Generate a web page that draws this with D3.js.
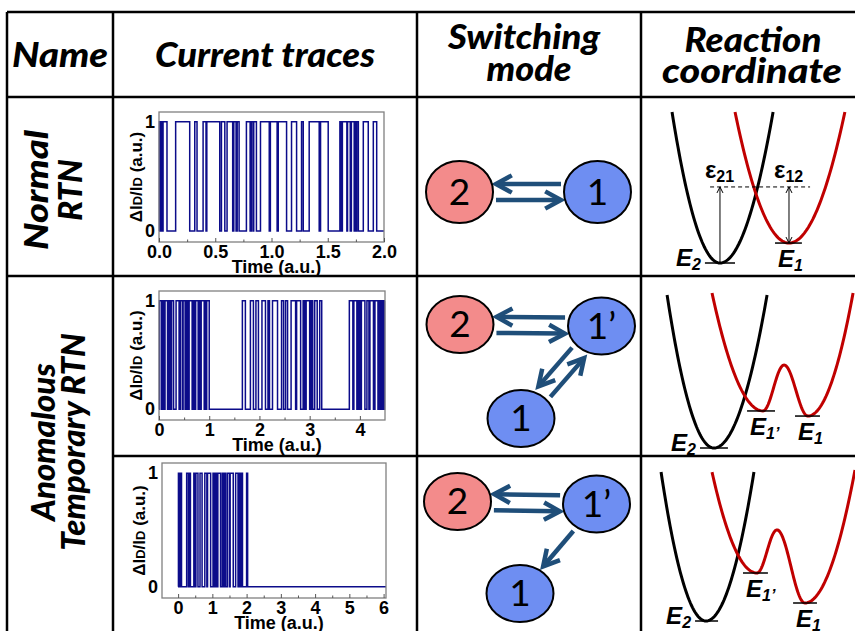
<!DOCTYPE html>
<html>
<head>
<meta charset="utf-8">
<script src="https://cdn.jsdelivr.net/npm/d3@7"></script>
<style>
  body { margin: 0; background: #fff; }
  svg { display: block; }
</style>
</head>
<body>
<svg id="chart" width="855" height="631"></svg>
<script>
// ---- table text ----
var headers = [['Name'], ['Current traces'], ['Switching', 'mode'], ['Reaction', 'coordinate']];
var rowNames = [['Normal', 'RTN'], ['Anomalous', 'Temporary RTN']];

// ---- current traces: times (a.u.) where the trap flips, trace starts at 0 ----
var switches1 = [0.004, 0.010, 0.014, 0.020, 0.024, 0.030, 0.036, 0.071, 0.148, 0.273,
  0.318, 0.338, 0.392, 0.418, 0.425, 0.54, 0.555, 0.585, 0.605, 0.655, 0.665, 0.685,
  0.695, 0.712, 0.777, 0.81, 0.82, 0.835, 0.842, 0.866, 0.902, 0.98, 0.99, 1.05, 1.06,
  1.134, 1.178, 1.223, 1.267, 1.282, 1.335, 1.424, 1.436, 1.504, 1.608, 1.62, 1.63,
  1.67, 1.676, 1.7, 1.71, 1.735, 1.742, 1.75, 1.758, 1.772, 1.816, 1.86, 1.905, 1.935];
var switches2 = [0.01, 0.05, 0.07, 0.1, 0.12, 0.17, 0.2, 0.22, 0.25, 0.29, 0.34, 0.4,
  0.43, 0.47, 0.48, 0.52, 0.55, 0.58, 0.6, 0.66, 0.68, 0.71, 0.73, 0.78, 0.8, 0.82, 0.84,
  0.9, 0.91, 0.93, 0.95, 1.0, 1.66, 1.72, 1.82, 1.88, 1.93, 1.98, 2.05, 2.12, 2.17, 2.2,
  2.26, 2.36, 2.44, 2.48, 2.52, 2.56, 2.63, 2.72, 2.74, 2.82, 2.87, 2.9, 2.93, 3.0, 3.03,
  3.06, 3.1, 3.15, 3.2, 3.24, 3.79, 3.86, 3.88, 3.94, 3.97, 4.0, 4.03, 4.1, 4.14, 4.18,
  4.2, 4.27, 4.3, 4.36, 4.38, 4.41, 4.44, 4.47, 4.49];
var switches3 = [0.01, 0.02, 0.03, 0.045, 0.06, 0.1, 0.25, 0.3, 0.32, 0.36, 0.46, 0.5,
  0.52, 0.58, 0.64, 0.7, 0.78, 0.84, 0.86, 0.95, 1.02, 1.06, 1.08, 1.12, 1.16, 1.24,
  1.29, 1.33, 1.35, 1.39, 1.44, 1.5, 1.52, 1.61, 1.68, 1.75, 1.78, 1.82, 1.85, 1.88,
  2.0, 2.03];
var timeDomains = [[0, 2], [0, 4.5], [-0.47, 6.07]];
var timeTicks = [[0, 0.5, 1, 1.5, 2], [0, 1, 2, 3, 4], [0, 1, 2, 3, 4, 5, 6]];
var minorTicks = [[0.25, 0.75, 1.25, 1.75], [0.5, 1.5, 2.5, 3.5], [0.5, 1.5, 2.5, 3.5, 4.5, 5.5]];
var tickFormats = ['.1f', 'd', 'd'];
var levelTicks = [0, 1];

// ---- switching modes ----
var modeStates = [['2', '1'], ['2', '1\u2019', '1'], ['2', '1\u2019', '1']];
var modeLinks = [
  [['1', '2'], ['2', '1']],
  [['1\u2019', '2'], ['2', '1\u2019'], ['1\u2019', '1'], ['1', '1\u2019']],
  [['1\u2019', '2'], ['2', '1\u2019'], ['1\u2019', '1']]
];

// ---- reaction coordinate: [q, energy] of tops / minima / barrier peaks ----
var wellE2 = [
  [[1.49, 10.07], [3.72, 0], [6.19, 10.07]],
  [[1.26, 10.2], [3.44, 0], [5.91, 10.2]],
  [[0.98, 9.93], [3.07, 0], [5.30, 9.93]]
];
var wellE1 = [
  [[4.42, 10.07], [6.93, 1.33], [9.53, 10.07]],
  [[3.35, 10.33], [5.72, 2.47], [6.70, 5.53], [7.81, 2.13], [9.91, 10.33]],
  [[3.35, 9.93], [5.44, 3.2], [6.37, 6.07], [7.67, 1.2], [10.0, 10.07]]
];
var levelSubs = [['2', '1'], ['2', '1\u2019', '1'], ['2', '1\u2019', '1']];
var levelSpans = [
  [[3.02, 4.42], [6.28, 7.53]],
  [[2.79, 4.09], [4.98, 6.28], [7.21, 8.37]],
  [[2.56, 3.63], [4.79, 5.95], [7.12, 8.23]]
];
var crossingLevel = 5.07, crossingSpan = [3.26, 7.91];
var barrierSubs = ['21', '12'];

// ---- layout ----
var svg = d3.select('#chart');
var colX = [7, 113, 417, 641], rowY = [12, 97, 276, 456, 640];
var headFont = 'Lato, "Open Sans", sans-serif',
    plotFont = '"Liberation Sans", Arial, sans-serif';

// header
var headPos = [
  {x: [60], y: [67], len: [96]},
  {x: [265], y: [67], len: [220]},
  {x: [524, 529], y: [49, 81], len: [152, 85]},
  {x: [753, 752], y: [52, 83], len: [137, 180]}
];
headers.forEach(function (lines, i) {
  lines.forEach(function (s, j) {
    svg.append('text')
      .attr('x', headPos[i].x[j]).attr('y', headPos[i].y[j])
      .attr('text-anchor', 'middle')
      .attr('font-family', headFont).attr('font-size', 35)
      .attr('font-weight', 900).attr('font-style', 'italic')
      .attr('textLength', headPos[i].len[j]).attr('lengthAdjust', 'spacingAndGlyphs')
      .text(s);
  });
});

// row names (rotated)
var namePos = [{x: [48, 82], y: 190, len: [120, null]}, {x: [55, 85], y: 442, len: [null, null]}];
rowNames.forEach(function (lines, i) {
  lines.forEach(function (s, j) {
    var t = svg.append('text')
      .attr('transform', 'translate(' + namePos[i].x[j] + ',' + namePos[i].y + ') rotate(-90)')
      .attr('text-anchor', 'middle')
      .attr('font-family', headFont).attr('font-size', 33)
      .attr('font-weight', 900).attr('font-style', 'italic')
      .text(s);
    if (namePos[i].len[j]) t.attr('textLength', namePos[i].len[j]).attr('lengthAdjust', 'spacingAndGlyphs');
  });
});

// ---- current traces ----
var tracePanels = [
  {sw: switches1, left: 159, right: 384, top: 112, bottom: 242},
  {sw: switches2, left: 159, right: 385, top: 291, bottom: 420},
  {sw: switches3, left: 162, right: 386, top: 463, bottom: 598}
];

tracePanels.forEach(function (p, i) {
  var dom = timeDomains[i];
  var x = d3.scaleLinear().domain(dom).range([p.left, p.right]);
  var y = d3.scaleLinear().domain([-0.1, 1.09]).range([p.bottom, p.top]);
  var g = svg.append('g');

  var pts = [[Math.max(0, dom[0]), 0]], level = 0;
  p.sw.forEach(function (t) { level = 1 - level; pts.push([t, level]); });
  pts.push([dom[1], level]);

  g.append('path')
    .datum(pts)
    .attr('fill', 'none')
    .attr('stroke', '#0c0c8a')
    .attr('stroke-width', 1.5)
    .attr('d', d3.line().x(function (d) { return x(d[0]); }).y(function (d) { return y(d[1]); })
      .curve(d3.curveStepAfter));

  g.append('rect')
    .attr('x', p.left).attr('y', p.top)
    .attr('width', p.right - p.left).attr('height', p.bottom - p.top)
    .attr('fill', 'none').attr('stroke', '#808080').attr('stroke-width', 1.3);

  var ax = g.append('g').attr('transform', 'translate(0,' + p.bottom + ')')
    .call(d3.axisBottom(x).tickValues(timeTicks[i]).tickFormat(d3.format(tickFormats[i]))
      .tickSize(-4).tickPadding(3));
  ax.select('.domain').remove();
  ax.selectAll('line').attr('stroke', '#555');
  ax.selectAll('text').attr('font-family', plotFont).attr('font-size', 18).attr('font-weight', 'bold');

  var mx = g.append('g').attr('transform', 'translate(0,' + p.bottom + ')')
    .call(d3.axisBottom(x).tickValues(minorTicks[i]).tickFormat('').tickSize(-2.5));
  mx.select('.domain').remove();
  mx.selectAll('line').attr('stroke', '#555');

  var ay = g.append('g').attr('transform', 'translate(' + p.left + ',0)')
    .call(d3.axisLeft(y).tickValues(levelTicks).tickFormat(d3.format('d')).tickSize(0).tickPadding(4));
  ay.select('.domain').remove();
  ay.selectAll('text').attr('font-family', plotFont).attr('font-size', 18).attr('font-weight', 'bold');

  g.append('text')
    .attr('x', (p.left + p.right) / 2 + 5).attr('y', p.bottom + 31)
    .attr('text-anchor', 'middle')
    .attr('font-family', plotFont).attr('font-size', 18).attr('font-weight', 'bold')
    .text('Time (a.u.)');

  var yl = g.append('text')
    .attr('transform', 'translate(' + (p.left - 17) + ',' + (p.top + p.bottom) / 2 + ') rotate(-90)')
    .attr('text-anchor', 'middle')
    .attr('font-family', plotFont).attr('font-size', 17).attr('font-weight', 'bold');
  yl.append('tspan').text('\u0394I');
  yl.append('tspan').attr('font-size', 13).text('D');
  yl.append('tspan').text('/I');
  yl.append('tspan').attr('font-size', 13).text('D');
  yl.append('tspan').text(' (a.u.)');
});

// ---- switching modes ----
var nodeLayout = [
  {'2': [459.5, 192], '1': [597.5, 192], ry: 31},
  {'2': [460, 324.5], '1\u2019': [601.5, 326], '1': [521, 418.5], ry: 28.5},
  {'2': [457.5, 501.5], '1\u2019': [596.5, 504], '1': [520, 593.5], ry: 28.5}
];
var nodeRx = 33.5;

function chevronArrow(g, x1, y1, x2, y2) {
  var ang = Math.atan2(y2 - y1, x2 - x1), len = 18, spread = 0.5;
  var a = [x2 - len * Math.cos(ang - spread), y2 - len * Math.sin(ang - spread)],
      b = [x2 - len * Math.cos(ang + spread), y2 - len * Math.sin(ang + spread)];
  g.append('line')
    .attr('x1', x1).attr('y1', y1)
    .attr('x2', x2 - 2 * Math.cos(ang)).attr('y2', y2 - 2 * Math.sin(ang));
  g.append('path').attr('fill', 'none').attr('d', 'M' + a + 'L' + x2 + ',' + y2 + 'L' + b);
}

modeStates.forEach(function (states, r) {
  var lay = nodeLayout[r], ry = lay.ry;
  var g = svg.append('g');
  var ag = g.append('g').attr('stroke', '#1f4e79').attr('stroke-width', 4.5)
    .attr('stroke-linejoin', 'miter');

  modeLinks[r].forEach(function (lk) {
    var a = lay[lk[0]], b = lay[lk[1]];
    var dx = b[0] - a[0], dy = b[1] - a[1], d = Math.sqrt(dx * dx + dy * dy);
    var ux = dx / d, uy = dy / d;
    var paired = modeLinks[r].some(function (o) { return o[0] === lk[1] && o[1] === lk[0]; });
    var off = paired ? 8 : 0;
    var nx = -uy * off, ny = ux * off;
    var rad = 1 / Math.sqrt((ux / nodeRx) * (ux / nodeRx) + (uy / ry) * (uy / ry));
    var gap = 3 + 3 * Math.abs(uy);
    chevronArrow(ag,
      a[0] + ux * (rad + gap) + nx, a[1] + uy * (rad + gap) + ny,
      b[0] - ux * (rad + gap) + nx, b[1] - uy * (rad + gap) + ny);
  });

  states.forEach(function (s) {
    var c = lay[s];
    g.append('ellipse')
      .attr('cx', c[0]).attr('cy', c[1]).attr('rx', nodeRx).attr('ry', ry)
      .attr('fill', s === '2' ? '#f38b8b' : '#6e8ef2')
      .attr('stroke', '#000').attr('stroke-width', 2);
    g.append('text')
      .attr('x', c[0]).attr('y', c[1] + 12.5)
      .attr('text-anchor', 'middle')
      .attr('font-family', headFont).attr('font-size', 37)
      .text(s);
  });
});

// ---- reaction coordinate ----
var q = d3.scaleLinear().domain([0, 10]).range([640, 855]);
var rowBase = [263, 448, 621];

function profilePoints(nodes) {
  var pts = [];
  for (var i = 0; i < nodes.length - 1; i++) {
    var a = nodes[i], b = nodes[i + 1], last = i === nodes.length - 2;
    d3.range(0, 1.0001, 0.025).forEach(function (t) {
      var e;
      if (i === 0) e = b[1] + (a[1] - b[1]) * (1 - t) * (1 - t);
      else if (last) e = a[1] + (b[1] - a[1]) * t * t;
      else e = a[1] + (b[1] - a[1]) * (1 - Math.cos(Math.PI * t)) / 2;
      pts.push([a[0] + (b[0] - a[0]) * t, e]);
    });
  }
  return pts;
}

svg.append('defs').append('marker')
  .attr('id', 'tip').attr('viewBox', '0 0 8 8').attr('refX', 7).attr('refY', 4)
  .attr('markerWidth', 8).attr('markerHeight', 8).attr('markerUnits', 'userSpaceOnUse')
  .attr('orient', 'auto-start-reverse')
  .append('path').attr('d', 'M1,1L7,4L1,7').attr('fill', 'none').attr('stroke', '#000').attr('stroke-width', 1);

function energyLabel(g, x, y, sub, anchor) {
  var t = g.append('text').attr('x', x).attr('y', y).attr('text-anchor', anchor)
    .attr('font-family', plotFont).attr('font-weight', 'bold').attr('font-style', 'italic')
    .attr('font-size', 24);
  t.append('tspan').text('E');
  t.append('tspan').attr('font-size', 16).attr('dy', 4).text(sub);
}

wellE2.forEach(function (blackNodes, r) {
  var E = d3.scaleLinear().domain([0, 10]).range([rowBase[r], rowBase[r] - 150]);
  var line = d3.line().x(function (d) { return q(d[0]); }).y(function (d) { return E(d[1]); });
  var g = svg.append('g');

  g.append('path').datum(profilePoints(blackNodes))
    .attr('fill', 'none').attr('stroke', '#000').attr('stroke-width', 3).attr('d', line);
  g.append('path').datum(profilePoints(wellE1[r]))
    .attr('fill', 'none').attr('stroke', '#c00000').attr('stroke-width', 3).attr('d', line);

  var minima = [blackNodes[1][1]];
  wellE1[r].forEach(function (n, k) { if (k % 2 === 1) minima.push(n[1]); });

  levelSpans[r].forEach(function (span, k) {
    var yy = E(minima[k]);
    g.append('line')
      .attr('x1', q(span[0])).attr('x2', q(span[1]))
      .attr('y1', yy).attr('y2', yy)
      .attr('stroke', '#000').attr('stroke-width', 1.5);
    if (k === 0) energyLabel(g, q(span[0]) - 4, yy + 3, levelSubs[r][k], 'end');
    else energyLabel(g, q(span[0]) + 3, yy + 24, levelSubs[r][k], 'start');
  });

  if (r === 0) {
    var yc = E(crossingLevel);
    g.append('line')
      .attr('x1', q(crossingSpan[0])).attr('x2', q(crossingSpan[1]))
      .attr('y1', yc).attr('y2', yc)
      .attr('stroke', '#000').attr('stroke-width', 1).attr('stroke-dasharray', '4,3');
    [blackNodes[1], wellE1[r][1]].forEach(function (m, k) {
      var a = g.append('line')
        .attr('x1', q(m[0])).attr('x2', q(m[0]))
        .attr('y1', E(m[1])).attr('y2', yc)
        .attr('stroke', '#000').attr('stroke-width', 1)
        .attr('marker-end', 'url(#tip)');
      if (k === 1) a.attr('marker-start', 'url(#tip)');
      var t = g.append('text')
        .attr('x', q(m[0]) - 15).attr('y', yc - 9)
        .attr('font-family', plotFont).attr('font-weight', 'bold').attr('font-size', 24);
      t.append('tspan').text('\u03b5');
      t.append('tspan').attr('font-size', 16).attr('dy', 4).text(barrierSubs[k]);
    });
  }
});

// ---- table grid ----
var grid = svg.append('g').attr('stroke', '#000').attr('stroke-width', 2.5);
[0, 1, 2].forEach(function (k) {
  grid.append('line').attr('x1', colX[0]).attr('x2', 860).attr('y1', rowY[k]).attr('y2', rowY[k]);
});
grid.append('line').attr('x1', colX[1]).attr('x2', 860).attr('y1', rowY[3]).attr('y2', rowY[3]);
colX.forEach(function (x) {
  grid.append('line').attr('x1', x).attr('x2', x).attr('y1', rowY[0]).attr('y2', rowY[4]);
});
</script>
</body>
</html>
